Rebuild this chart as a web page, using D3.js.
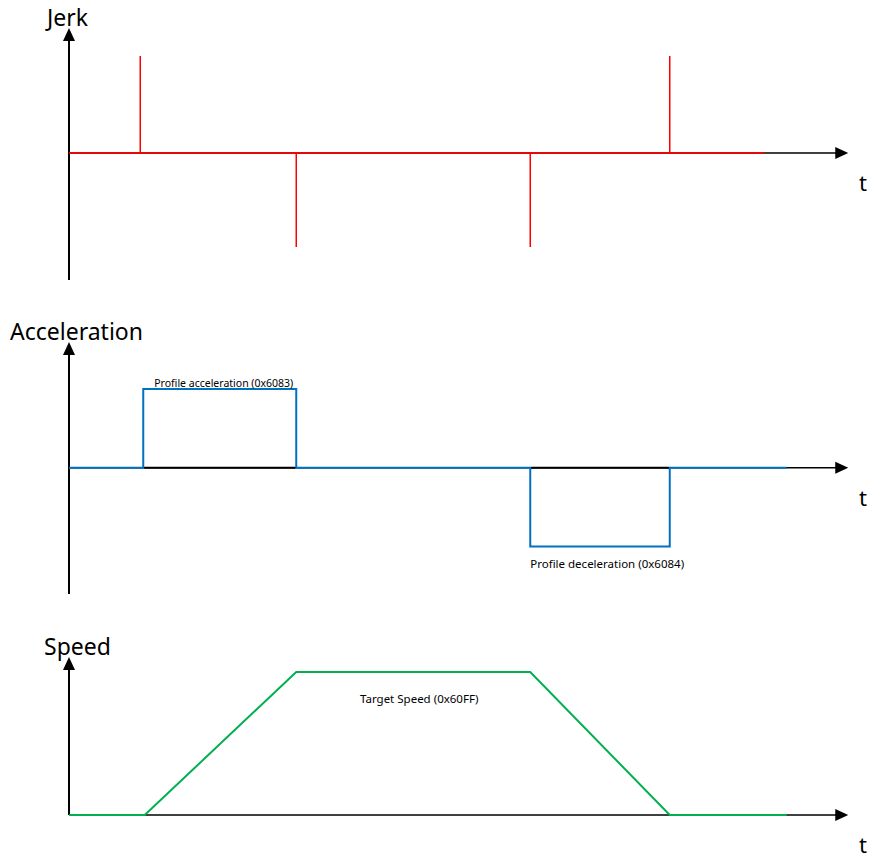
<!DOCTYPE html>
<html>
<head>
<meta charset="utf-8">
<script src="https://cdn.jsdelivr.net/npm/d3@7"></script>
<style>
    body { margin: 0; background: #ffffff; overflow: hidden; }
    svg { display: block; }
    text { font-family: 'Noto Sans', sans-serif; fill: #000000; }
</style>
</head>
<body>
<div id="chart"></div>
<script>

// data (time units, normalized values)

var jerkTimes   = [ 0, 0.95, 3.03, 6.15, 8.01, 9.27 ];
var jerkSpikes  = [ 1, -0.97, -0.97, 1 ];

var accelTimes  = [ 0, 0.99, 3.03, 6.15, 8.01, 9.57 ];
var accelValues = [ 0, 1, 0, -1, 0, 0 ];

var speedTimes  = [ 0, 1.01, 3.03, 6.15, 8.01, 9.57 ];
var speedValues = [ 0, 0, 1, 1, 0, 0 ];

var panelTitles = [ 'Jerk', 'Acceleration', 'Speed' ];
var curveNotes  = [ 'Profile acceleration (0x6083)', 'Profile deceleration (0x6084)', 'Target Speed (0x60FF)' ];
var axisName    = 't';
var axisEnd     = 10.39;

var width = 869,
    height = 859;

var svg = d3.select('#chart').append('svg')
    .attr('width', width)
    .attr('height', height);

var x = d3.scaleLinear()
    .domain([ 0, 10 ])
    .range([ 69, 819 ]);

function drawAxes ( y, axisTop, axisBottom, title, titleX ) {

    var x0 = x( 0 );
    var y0 = y( 0 );

    svg.append('line')
        .attr('x1', x0).attr('x2', x0)
        .attr('y1', axisBottom).attr('y2', axisTop + 10)
        .style('stroke', '#000')
        .style('stroke-width', 2);

    svg.append('path')
        .attr('d', 'M' + x0 + ',' + axisTop + 'L' + ( x0 - 6 ) + ',' + ( axisTop + 13 ) + 'L' + ( x0 + 6 ) + ',' + ( axisTop + 13 ) + 'Z')
        .style('fill', '#000');

    svg.append('line')
        .attr('x1', x0).attr('x2', x( axisEnd ) - 10)
        .attr('y1', y0).attr('y2', y0)
        .style('stroke', '#000')
        .style('stroke-width', 1.5);

    var tip = x( axisEnd );

    svg.append('path')
        .attr('d', 'M' + tip + ',' + y0 + 'L' + ( tip - 13 ) + ',' + ( y0 - 6 ) + 'L' + ( tip - 13 ) + ',' + ( y0 + 6 ) + 'Z')
        .style('fill', '#000');

    svg.append('text')
        .attr('x', titleX)
        .attr('y', axisTop - 2)
        .style('font-size', '23px')
        .text( title );

    svg.append('text')
        .attr('x', 859)
        .attr('y', y0 + 38)
        .style('font-size', '22px')
        .text( axisName );

}

// first panel - jerk

var yJerk = d3.scaleLinear()
    .domain([ -1, 1 ])
    .range([ 250, 56 ]);

drawAxes( yJerk, 28, 280, panelTitles[0], 47 );

svg.append('line')
    .attr('x1', x( jerkTimes[0] ))
    .attr('x2', x( jerkTimes[ jerkTimes.length - 1 ] ))
    .attr('y1', yJerk( 0 ))
    .attr('y2', yJerk( 0 ))
    .style('stroke', '#ff0000')
    .style('stroke-opacity', 0.85)
    .style('stroke-width', 2);

svg.selectAll('.spike')
    .data( jerkSpikes )
    .enter().append('line')
    .attr('class', 'spike')
    .attr('x1', function ( d, i ) { return x( jerkTimes[ i + 1 ] ); })
    .attr('x2', function ( d, i ) { return x( jerkTimes[ i + 1 ] ); })
    .attr('y1', yJerk( 0 ))
    .attr('y2', function ( d ) { return yJerk( d ); })
    .style('stroke', '#ff0000')
    .style('stroke-width', 1.5);

// second panel - acceleration

var yAccel = d3.scaleLinear()
    .domain([ -1, 1 ])
    .range([ 546.5, 389 ]);

drawAxes( yAccel, 342, 594, panelTitles[1], 10 );

var accelLine = d3.line()
    .x( function ( d, i ) { return x( accelTimes[i] ); })
    .y( function ( d ) { return yAccel( d ); })
    .curve( d3.curveStepAfter );

svg.append('path')
    .attr('d', accelLine( accelValues ))
    .style('fill', 'none')
    .style('stroke', '#0070c0')
    .style('stroke-width', 2);

// black axis stays visible under the rectangles

[ [ 1, 2 ], [ 3, 4 ] ].forEach( function ( seg ) {

    svg.append('line')
        .attr('x1', x( accelTimes[ seg[0] ] ) + 1)
        .attr('x2', x( accelTimes[ seg[1] ] ) - 1)
        .attr('y1', yAccel( 0 ))
        .attr('y2', yAccel( 0 ))
        .style('stroke', '#000')
        .style('stroke-width', 2);

});

svg.append('text')
    .attr('x', x( accelTimes[1] ) + 11)
    .attr('y', yAccel( 1 ) - 2)
    .style('font-size', '10.5px')
    .text( curveNotes[0] );

svg.append('text')
    .attr('x', x( accelTimes[3] ))
    .attr('y', yAccel( -1 ) + 21)
    .style('font-size', '11.5px')
    .text( curveNotes[1] );

// third panel - speed

var ySpeed = d3.scaleLinear()
    .domain([ 0, 1 ])
    .range([ 815, 672 ]);

drawAxes( ySpeed, 657, 815, panelTitles[2], 44 );

var speedLine = d3.line()
    .x( function ( d, i ) { return x( speedTimes[i] ); })
    .y( function ( d ) { return ySpeed( d ); });

svg.append('path')
    .attr('d', speedLine( speedValues ))
    .style('fill', 'none')
    .style('stroke', '#00b050')
    .style('stroke-width', 2);

svg.append('text')
    .attr('x', 360)
    .attr('y', ySpeed( 1 ) + 31)
    .style('font-size', '11.5px')
    .text( curveNotes[2] );

</script>
</body>
</html>
